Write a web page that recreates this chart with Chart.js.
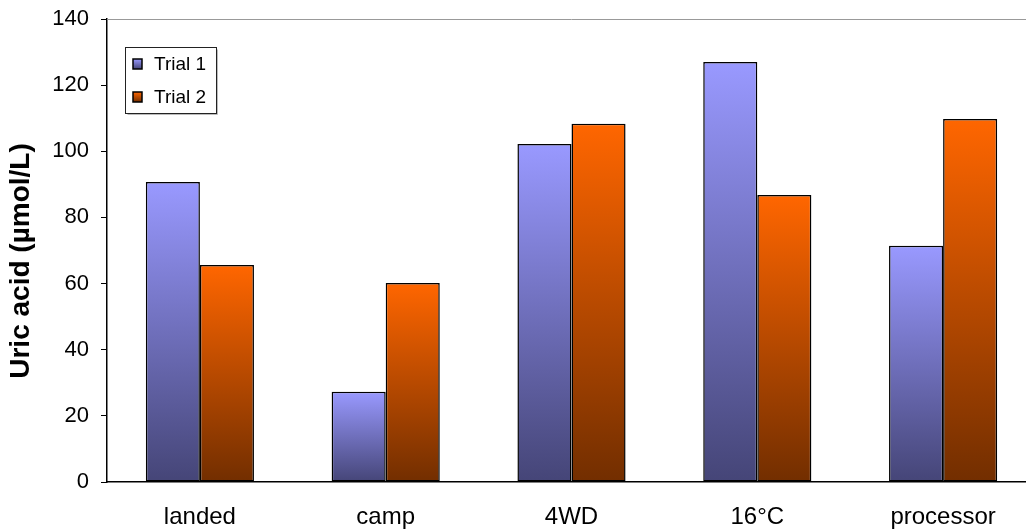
<!DOCTYPE html>
<html>
<head>
<meta charset="utf-8">
<script src="https://cdn.jsdelivr.net/npm/chart.js@4/dist/chart.umd.min.js"></script>
<style>
  html, body { margin: 0; padding: 0; background: #fff; overflow: hidden; }
  canvas { display: block; }
</style>
</head>
<body>
<!-- plot area runs a little past the right edge of the window, like the original -->
<canvas id="chart" width="1036" height="529"></canvas>
<script>
const categories = ['landed', 'camp', '4WD', '16°C', 'processor'];
const trial1 = [90.7, 27.3, 102.2, 127.0, 71.4];
const trial2 = [65.6, 60.2, 108.3, 86.8, 109.8];
const seriesNames = ['Trial 1', 'Trial 2'];
const yTicks = [0, 20, 40, 60, 80, 100, 120, 140];
const yTitle = 'Uric acid (µmol/L)';

const FONT = '"Liberation Sans", Arial, sans-serif';
const colors = [
    { top: '#9999ff', bottom: '#454577' },
    { top: '#ff6600', bottom: '#722e00' }
];

// gradient from the top of each bar down to the zero line
function barGradient(c, col) {
    const chart = c.chart;
    if (!chart.chartArea || c.type !== 'data') return col.top;
    const y = chart.scales.y;
    const y0 = y.getPixelForValue(c.raw);
    const y1 = y.getPixelForValue(0);
    const g = chart.ctx.createLinearGradient(0, y0, 0, y1);
    g.addColorStop(0, col.top);
    g.addColorStop(1, col.bottom);
    return g;
}

// top border of the plot area, y title, boxed legend inside the plot
const extras = {
    id: 'extras',
    afterDraw(chart) {
        const ctx = chart.ctx;
        const a = chart.chartArea;
        ctx.save();
        ctx.strokeStyle = '#999';
        ctx.lineWidth = 1;
        ctx.beginPath();
        ctx.moveTo(a.left, a.top + 0.5);
        ctx.lineTo(chart.width, a.top + 0.5);
        ctx.stroke();

        // axis title (sits a bit below the middle of the plot in the original)
        ctx.save();
        ctx.translate(21, 261);
        ctx.rotate(-Math.PI / 2);
        ctx.font = 'bold 28px ' + FONT;
        ctx.fillStyle = '#000';
        ctx.textAlign = 'center';
        ctx.textBaseline = 'middle';
        ctx.fillText(yTitle, 0, 0);
        ctx.restore();

        // legend box
        const bx = 125.5, by = 47.5, bw = 91, bh = 66;
        ctx.fillStyle = '#fff';
        ctx.fillRect(bx, by, bw, bh);
        ctx.strokeStyle = '#bbb';
        ctx.beginPath();
        ctx.moveTo(bx + 2, by + bh + 1);
        ctx.lineTo(bx + bw + 1, by + bh + 1);
        ctx.lineTo(bx + bw + 1, by + 2);
        ctx.stroke();
        ctx.strokeStyle = '#222';
        ctx.strokeRect(bx, by, bw, bh);

        ctx.font = '19px ' + FONT;
        ctx.textBaseline = 'middle';
        ctx.textAlign = 'left';
        seriesNames.forEach((name, i) => {
            const cy = 64 + i * 33;
            const g = ctx.createLinearGradient(0, cy - 5, 0, cy + 5);
            g.addColorStop(0, colors[i].top);
            g.addColorStop(1, colors[i].bottom);
            ctx.fillStyle = g;
            ctx.fillRect(133, cy - 5, 9, 10);
            ctx.strokeStyle = '#000';
            ctx.lineWidth = 1.5;
            ctx.strokeRect(133, cy - 5, 9, 10);
            ctx.fillStyle = '#000';
            ctx.fillText(name, 154, cy + 1);
        });
        ctx.restore();
    }
};

new Chart(document.getElementById('chart'), {
    type: 'bar',
    data: {
        labels: categories,
        datasets: [{
            label: seriesNames[0],
            data: trial1,
            backgroundColor: c => barGradient(c, colors[0]),
            borderColor: '#000',
            borderWidth: 1.5,
            borderSkipped: false
        }, {
            label: seriesNames[1],
            data: trial2,
            backgroundColor: c => barGradient(c, colors[1]),
            borderColor: '#000',
            borderWidth: 1.5,
            borderSkipped: false
        }]
    },
    options: {
        responsive: false,
        animation: false,
        events: [],
        layout: { padding: { top: 19, right: 0, left: 0, bottom: 0 } },
        datasets: { bar: { categoryPercentage: 0.582, barPercentage: 1 } },
        plugins: {
            legend: { display: false },
            tooltip: { enabled: false }
        },
        scales: {
            x: {
                grid: { display: false, drawTicks: false },
                border: { display: true, color: '#000', width: 1.5 },
                ticks: { color: '#000', font: { size: 24, family: FONT }, padding: 21, maxRotation: 0 },
                afterFit: s => { s.height = 47; }
            },
            y: {
                min: 0,
                max: 140,
                afterBuildTicks: s => { s.ticks = yTicks.map(v => ({ value: v })); },
                grid: { drawOnChartArea: false, drawTicks: true, tickLength: 6, color: '#000' },
                border: { display: true, color: '#000', width: 1.5 },
                ticks: { color: '#000', font: { size: 22, family: FONT, lineHeight: 0.5 }, padding: 12 },
                afterFit: s => { s.width = 107; }
            }
        }
    },
    plugins: [extras]
});
</script>
</body>
</html>
